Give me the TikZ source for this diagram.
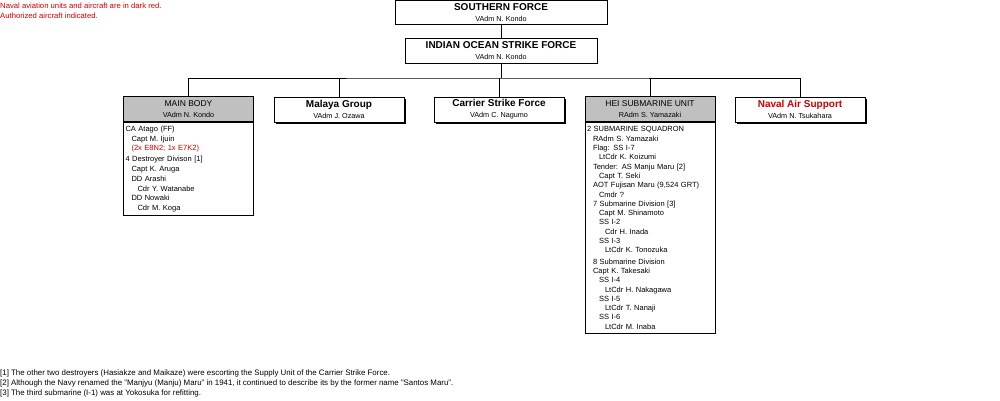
\documentclass[tikz,border=0pt]{standalone}
\usepackage{fontspec}
\setmainfont{Liberation Sans}
\usetikzlibrary{shadows}
\definecolor{darkred}{HTML}{CC0000}
\definecolor{hdrgray}{HTML}{C0C0C0}
\newcommand{\bigname}[1]{{\fontsize{10}{11}\selectfont\bfseries #1}}
\newcommand{\plainname}[1]{{\fontsize{8.5}{10}\selectfont #1}}
\newcommand{\cmdr}[1]{{\fontsize{7.25}{8}\selectfont #1}}
\newcommand{\ind}{\hspace*{6pt}}
\tikzset{
  cmd/.style={draw,line width=1pt,inner sep=0pt,align=center,minimum height=25pt,fill=white},
  unit/.style={cmd,minimum width=130pt,drop shadow={shadow xshift=2pt,shadow yshift=-2pt,fill=black,opacity=1}},
  grayhead/.style={cmd,fill=hdrgray,minimum width=130pt},
  roster/.style={draw,line width=1pt,anchor=north,minimum width=130pt,text width=126pt,inner xsep=2pt,inner ysep=3pt,align=left,font=\fontsize{7.5}{9.3}\selectfont},
  wire/.style={line width=1pt},
  note/.style={anchor=west,inner sep=0pt,font=\fontsize{7.9}{9}\selectfont}
}
\begin{document}
\begin{tikzpicture}[x=1pt,y=-1pt]
\useasboundingbox (0,0) rectangle (1000,400);

\node (legend) at (0,11) [note,align=left,text=darkred,font=\fontsize{7.7}{10}\selectfont]
  {Naval aviation units and aircraft are in dark red.\\Authorized aircraft indicated.};

\node (sf) at (501,12.5) [cmd,minimum width=212pt,minimum height=24pt] {\bigname{SOUTHERN FORCE}\\[-1pt]\cmdr{VAdm N. Kondo}};
\node (iosf) at (501,50.5) [cmd,minimum width=192pt] {\bigname{INDIAN OCEAN STRIKE FORCE}\\[-1pt]\cmdr{VAdm N. Kondo}};

\node (main) at (188.5,109) [grayhead] {\plainname{MAIN BODY}\\[-1pt]\cmdr{VAdm N. Kondo}};
\node (malaya) at (339,109.5) [unit] {\bigname{Malaya Group}\\[-1pt]\cmdr{VAdm J. Ozawa}};
\node (csf) at (499,109.5) [unit] {\bigname{Carrier Strike Force}\\[-1pt]\cmdr{VAdm C. Nagumo}};
\node (hei) at (650,109) [grayhead] {\plainname{HEI SUBMARINE UNIT}\\[-1pt]\cmdr{RAdm S. Yamazaki}};
\node (nas) at (800,109.5) [unit] {\bigname{\textcolor{darkred}{Naval Air Support}}\\[-1pt]\cmdr{VAdm N. Tsukahara}};

\node (mainlist) at (main.south) [roster,minimum height=93pt,font=\fontsize{7.5}{9.7}\selectfont] {%
CA Atago (FF)\\
\ind Capt M. Ijuin\\
\ind\textcolor{darkred}{(2x E8N2; 1x E7K2)}\\[1.5pt]
4 Destroyer Divison [1]\\
\ind Capt K. Aruga\\
\ind DD Arashi\\
\ind\ind Cdr Y. Watanabe\\
\ind DD Nowaki\\
\ind\ind Cdr M. Koga};

\node (heilist) at (hei.south) [roster,minimum height=211pt] {%
2 SUBMARINE SQUADRON\\
\ind RAdm S. Yamazaki\\
\ind Flag: SS I-7\\
\ind\ind LtCdr K. Koizumi\\
\ind Tender: AS Manju Maru [2]\\
\ind\ind Capt T. Seki\\
\ind AOT Fujisan Maru (9,524 GRT)\\
\ind\ind Cmdr ?\\
\ind 7 Submarine Division [3]\\
\ind\ind Capt M. Shinamoto\\
\ind\ind SS I-2\\
\ind\ind\ind Cdr H. Inada\\
\ind\ind SS I-3\\
\ind\ind\ind LtCdr K. Tonozuka\\[2pt]
\ind 8 Submarine Division\\
\ind Capt K. Takesaki\\
\ind\ind SS I-4\\
\ind\ind\ind LtCdr H. Nakagawa\\
\ind\ind SS I-5\\
\ind\ind\ind LtCdr T. Nanaji\\
\ind\ind SS I-6\\
\ind\ind\ind LtCdr M. Inaba};

\coordinate (bar) at (501,78);
\draw[wire] (sf) -- (iosf);
\draw[wire] (iosf) -- (bar);
\draw[wire] (main.north) |- (bar) -| (nas.north);
\draw[wire] (malaya.north) -- (malaya.north |- bar);
\draw[wire] (csf.north) -- (csf.north |- bar);
\draw[wire] (hei.north) -- (hei.north |- bar);

\node (fn1) at (0,373) [note] {[1] The other two destroyers (Hasiakze and Maikaze) were escorting the Supply Unit of the Carrier Strike Force.};
\node (fn2) at (0,383) [note] {[2] Although the Navy renamed the "Manjyu (Manju) Maru" in 1941, it continued to describe its by the former name "Santos Maru".};
\node (fn3) at (0,393) [note] {[3] The third submarine (I-1) was at Yokosuka for refitting.};
\end{tikzpicture}
\end{document}
